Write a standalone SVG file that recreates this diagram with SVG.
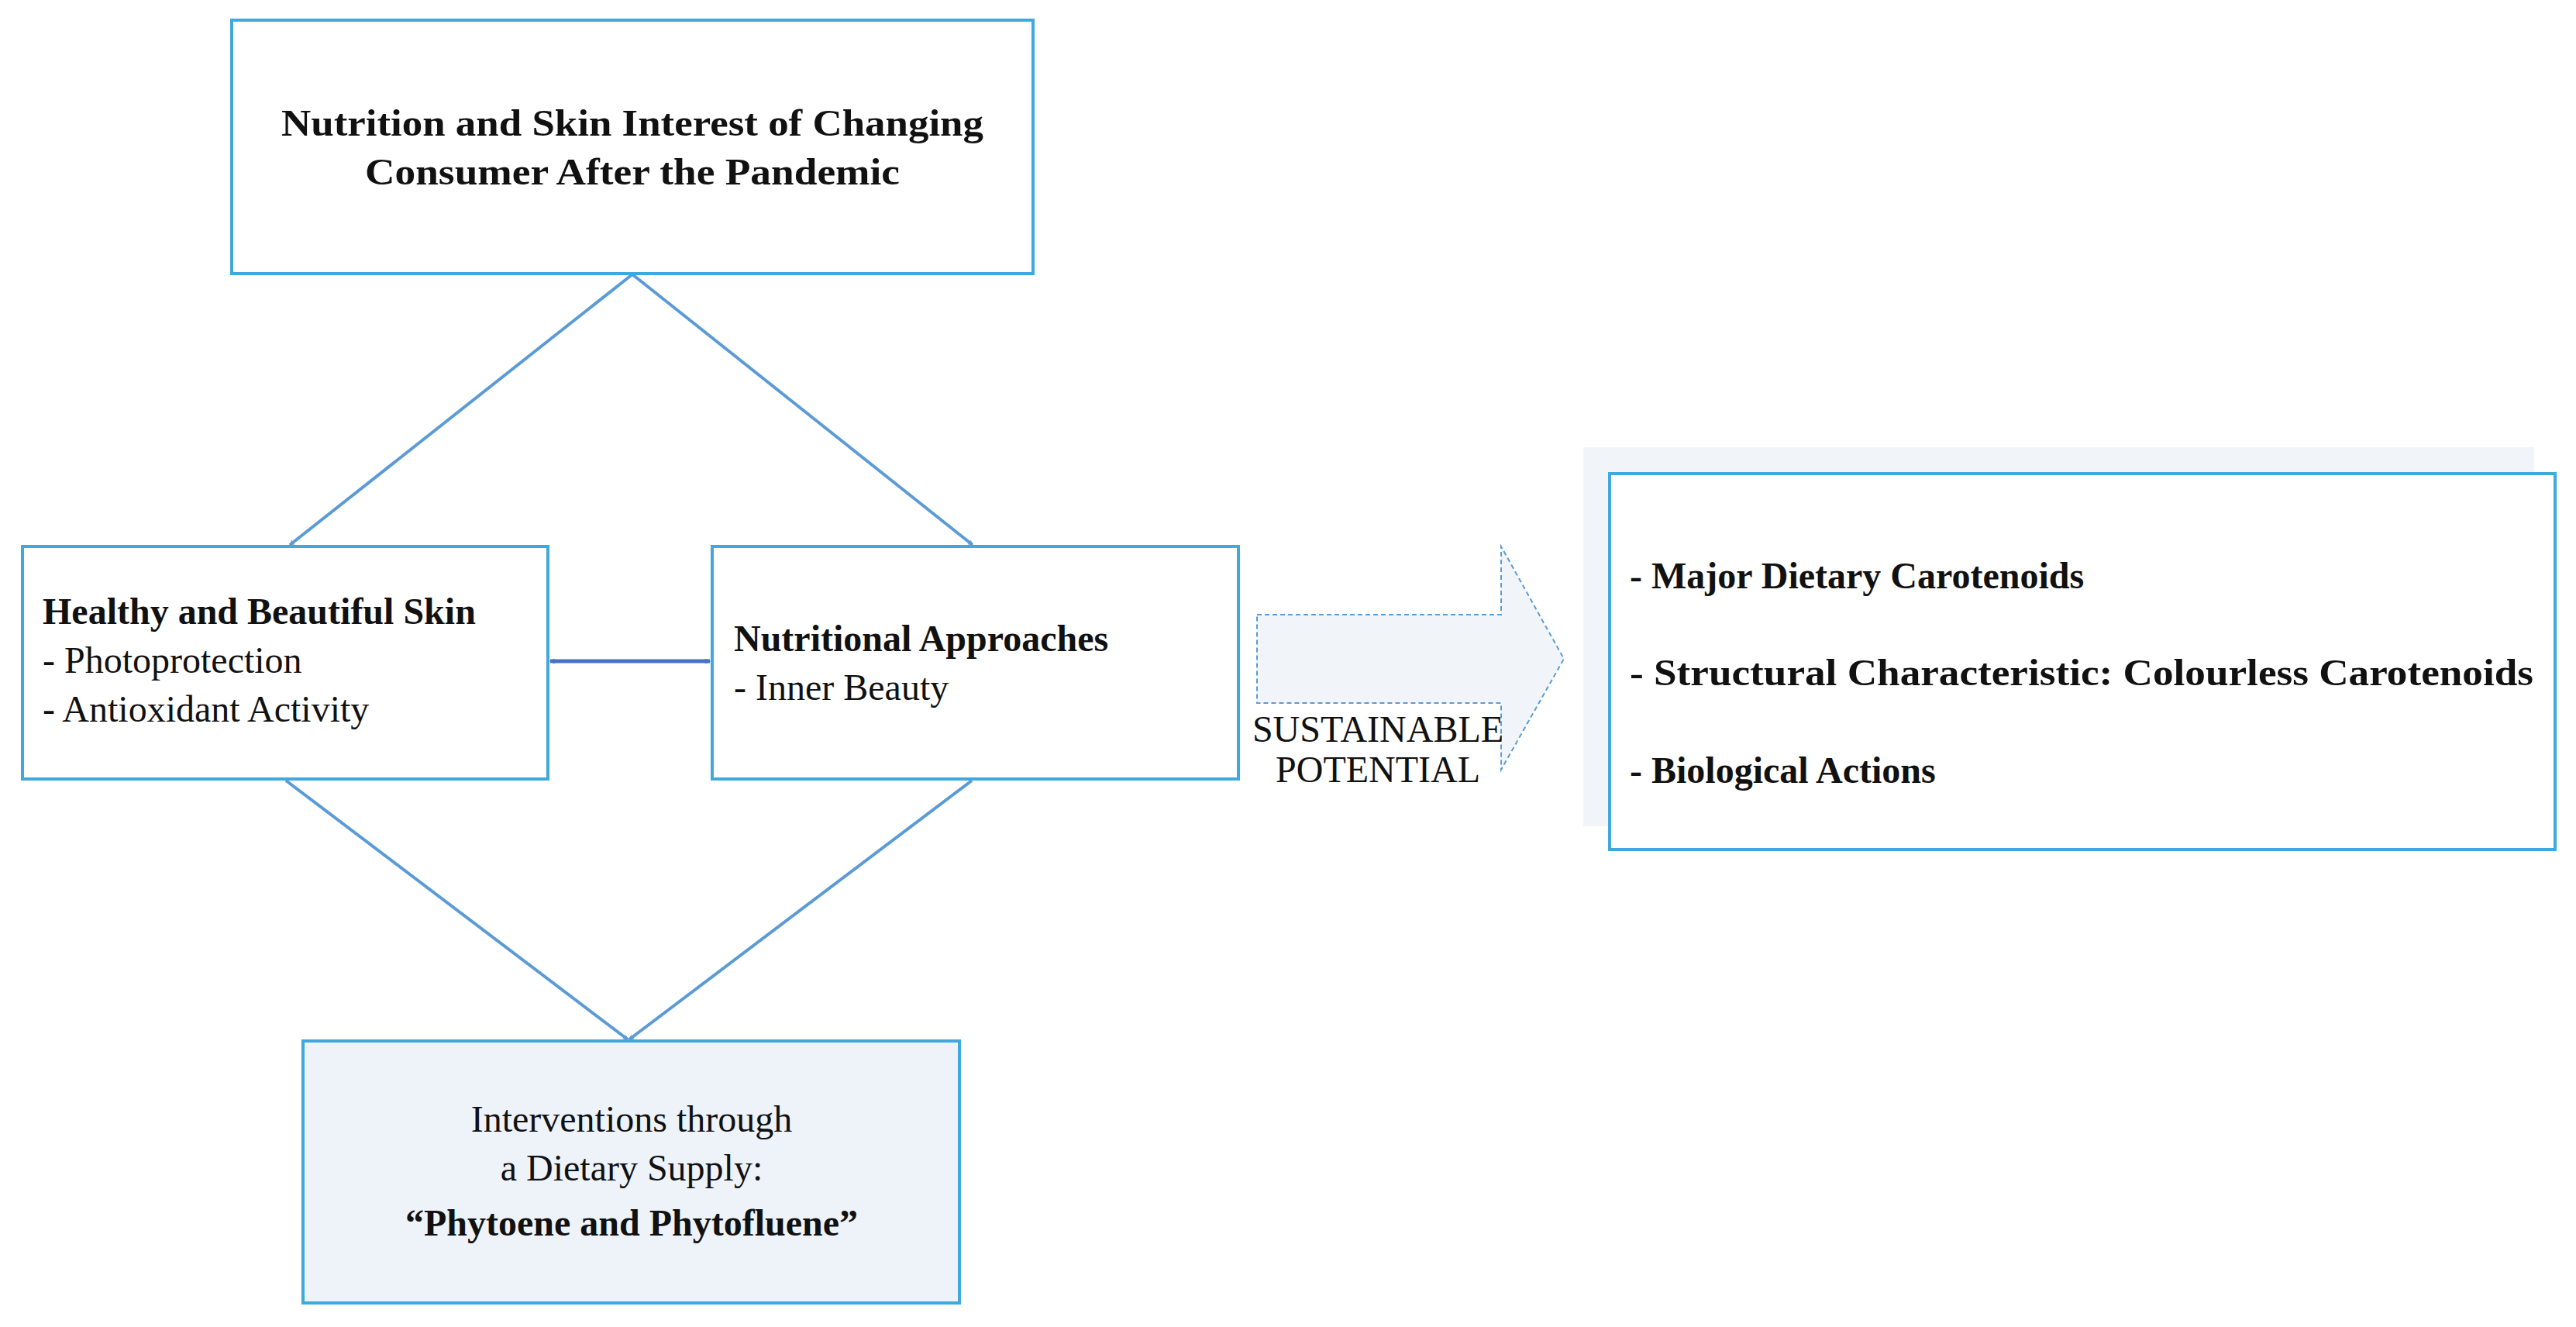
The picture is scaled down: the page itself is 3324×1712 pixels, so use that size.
<svg xmlns="http://www.w3.org/2000/svg" width="3324" height="1712" viewBox="0 0 3324 1712">
<defs>
<style>
.box{fill:#fff;stroke:#3fa9dd;stroke-width:4}
.t{font-family:"Liberation Serif",serif;font-size:48px;fill:#111}
.b{font-weight:bold}
.c{stroke:#5b9bd5;stroke-width:4;fill:none}
</style>
<marker id="ah" viewBox="0 0 20 20" refX="18" refY="10" markerWidth="7" markerHeight="7" markerUnits="userSpaceOnUse" orient="auto-start-reverse" style="overflow:visible">
<path d="M2,2 L18,10 L2,18" fill="none" stroke="#5b9bd5" stroke-width="3"/>
</marker>
<marker id="ah2" viewBox="0 0 20 20" refX="18" refY="10" markerWidth="7" markerHeight="7" markerUnits="userSpaceOnUse" orient="auto-start-reverse" style="overflow:visible">
<path d="M2,2 L18,10 L2,18" fill="none" stroke="#4472c4" stroke-width="3"/>
</marker>
</defs>
<rect width="3324" height="1712" fill="#fff"/>
<g id="connectors">
<line class="c" x1="816" y1="354" x2="374" y2="703" marker-end="url(#ah)"/>
<line class="c" x1="816" y1="354" x2="1255" y2="703" marker-end="url(#ah)"/>
<line class="c" x1="369" y1="1007" x2="810" y2="1341" marker-end="url(#ah)"/>
<line class="c" x1="1254" y1="1007" x2="812" y2="1341" marker-end="url(#ah)"/>
<line x1="710" y1="853" x2="916" y2="853" stroke="#4472c4" stroke-width="5" marker-start="url(#ah2)" marker-end="url(#ah2)"/>
</g>
<g id="sustainable">
<path d="M1622,793 L1937,793 L1937,705 L2018,850 L1937,993 L1937,907 L1622,907 Z" fill="#f1f5fa" stroke="#5b9bd5" stroke-width="2" stroke-dasharray="6,4"/>
<text class="t" x="1778" y="957" text-anchor="middle" font-size="36" fill="#444">SUSTAINABLE</text>
<text class="t" x="1778" y="1009" text-anchor="middle" font-size="36" fill="#444">POTENTIAL</text>
</g>
<g id="top">
<rect class="box" x="299" y="26" width="1034" height="327"/>
<text class="t b" x="816" y="175" text-anchor="middle" font-size="50" textLength="906" lengthAdjust="spacingAndGlyphs">Nutrition and Skin Interest of Changing</text>
<text class="t b" x="816" y="238" text-anchor="middle" font-size="50" textLength="690" lengthAdjust="spacingAndGlyphs">Consumer After the Pandemic</text>
</g>
<g id="skin">
<rect class="box" x="29" y="705" width="678" height="300"/>
<text class="t b" x="55" y="805">Healthy and Beautiful Skin</text>
<text class="t" x="55" y="868">- Photoprotection</text>
<text class="t" x="55" y="931">- Antioxidant Activity</text>
</g>
<g id="nutri">
<rect class="box" x="919" y="705" width="679" height="300"/>
<text class="t b" x="947" y="840">Nutritional Approaches</text>
<text class="t" x="947" y="903">- Inner Beauty</text>
</g>
<g id="interventions">
<rect class="box" x="391" y="1343" width="847" height="338" fill="#eef3fa" style="fill:#eef3fa"/>
<text class="t" x="815" y="1460" text-anchor="middle">Interventions through</text>
<text class="t" x="815" y="1523" text-anchor="middle">a Dietary Supply:</text>
<text class="t b" x="815" y="1594" text-anchor="middle" font-size="62">“Phytoene and Phytofluene”</text>
</g>
<g id="carotenoids">
<rect x="2043" y="577" width="1227" height="489" fill="#f1f5fa"/>
<rect class="box" x="2077" y="611" width="1220" height="485"/>
<text class="t b" x="2103" y="759">- Major Dietary Carotenoids</text>
<text class="t b" x="2103" y="884" textLength="1166" lengthAdjust="spacingAndGlyphs">- Structural Characteristic: Colourless Carotenoids</text>
<text class="t b" x="2103" y="1010">- Biological Actions</text>
</g>
</svg>
